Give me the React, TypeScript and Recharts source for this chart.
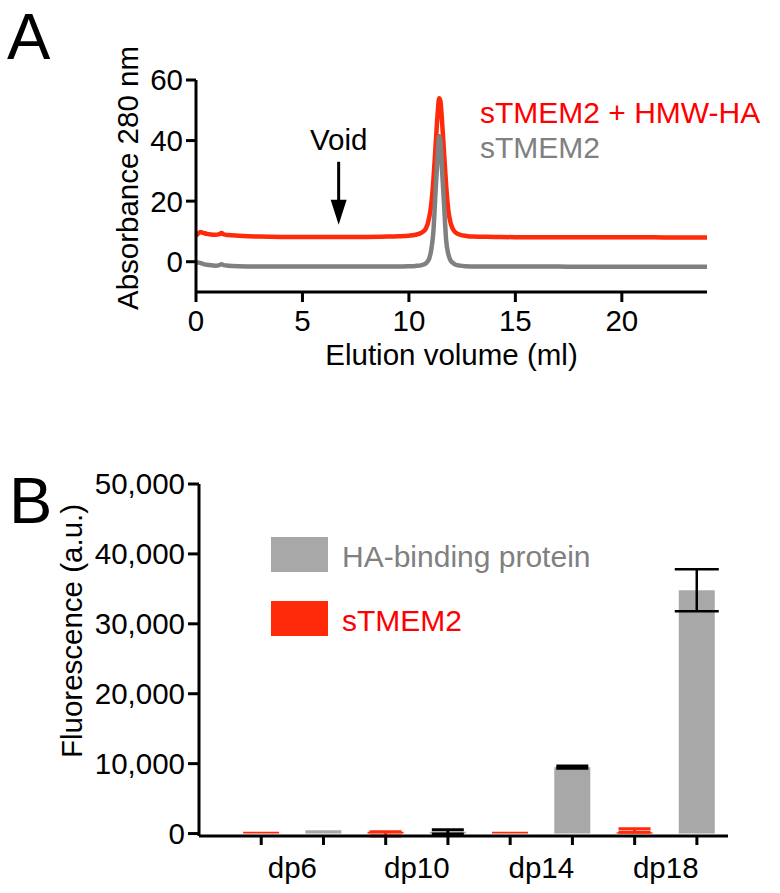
import React from 'react';
import {
  LineChart, Line, XAxis, YAxis, ReferenceDot, Legend,
  BarChart, Bar, Cell, ErrorBar,
} from 'recharts';

// ---------- Panel A data ----------
const elutionVolume = [0, 0.1, 0.2, 0.35, 0.5, 0.7, 0.9, 1.1, 1.2, 1.3, 1.5, 2, 3, 4, 5, 6, 7, 8, 9, 9.5, 10, 10.3, 10.6, 10.8, 10.95, 11.05, 11.15, 11.25, 11.35, 11.42, 11.48, 11.55, 11.65, 11.75, 11.85, 11.95, 12.05, 12.2, 12.4, 12.7, 13, 14, 15, 16, 17, 18, 19, 20, 21, 22, 23, 24];
const absWithHA = [8.6, 9.3, 9.8, 9.5, 9.2, 9.0, 8.9, 9.1, 9.5, 9.0, 8.8, 8.6, 8.3, 8.2, 8.2, 8.2, 8.2, 8.2, 8.3, 8.4, 8.6, 8.9, 9.6, 11.0, 14.5, 19, 27, 38, 49, 54, 53, 47, 36, 25, 17, 13, 11, 9.6, 8.9, 8.5, 8.3, 8.2, 8.1, 8.1, 8.1, 8.1, 8.1, 8.1, 8.1, 8.0, 8.0, 8.0];
const absAlone = [-0.4, -0.3, -0.4, -0.8, -1.0, -1.2, -1.3, -1.1, -0.8, -1.1, -1.3, -1.5, -1.6, -1.6, -1.6, -1.6, -1.6, -1.6, -1.6, -1.6, -1.5, -1.4, -1.1, -0.5, 1, 4, 10, 23, 35, 41.5, 40, 31, 19, 7, 2.5, 0.5, -0.3, -1.0, -1.3, -1.5, -1.6, -1.6, -1.6, -1.6, -1.6, -1.7, -1.7, -1.7, -1.7, -1.7, -1.7, -1.7];
const absTicks = [0, 20, 40, 60];
const volTicks = [0, 5, 10, 15, 20];
const voidVolume = 6.7;
const voidArrowTip = 12.2;

// ---------- Panel B data ----------
const categories = ['dp6', 'dp10', 'dp14', 'dp18'];
const hbpMean = [480, 250, 9500, 34800];
const hbpErr = [0, 300, 150, 3000];
const tmemMean = [250, 250, 250, 200];
const tmemErrLow = [0, 600, 0, 0];
const tmemErrHigh = [0, 0, 0, 500];
const fluorTicks = [0, 10000, 20000, 30000, 40000, 50000];

const RED = '#ff2a0a';
const RED_TEXT = '#ff0000';
const GRAY_LINE = '#808080';
const GRAY_BAR = '#a8a8a8';
const FONT = "'Liberation Sans', Arial, Helvetica, sans-serif";
const FS = 29.5;

const lineData = elutionVolume.map((v, i) => ({ vol: v, withHA: absWithHA[i], alone: absAlone[i] }));

const barData: any[] = [];
categories.forEach((c, i) => {
  const lo = tmemErrLow[i];
  const hi = tmemErrHigh[i];
  barData.push({ pos: 2 * i, value: tmemMean[i], kind: 'tmem', errRed: lo || hi ? [lo, hi] : undefined });
  barData.push({
    pos: 2 * i + 1, value: hbpMean[i], kind: 'hbp',
    errBlack: hbpErr[i] && hbpErr[i] < 1000 ? hbpErr[i] : undefined,
    errBlackBig: hbpErr[i] >= 1000 ? hbpErr[i] : undefined,
  });
});
const barXTicks: number[] = [];
categories.forEach((c, i) => { barXTicks.push(2 * i, 2 * i + 0.5, 2 * i + 1); });

const VoidArrow = (props: any) => {
  const { cx, cy } = props;
  if (cx == null || cy == null) return null;
  return (
    <g>
      <line x1={cx} x2={cx} y1={cy - 63} y2={cy - 22} stroke="#000" strokeWidth={3} />
      <polygon points={`${cx - 8},${cy - 25} ${cx + 8},${cy - 25} ${cx},${cy}`} fill="#000" />
      <text x={cx} y={cy - 75} textAnchor="middle" fontSize={FS} fontFamily={FONT} fill="#000">Void</text>
    </g>
  );
};

const BarXTick = (props: any) => {
  const { x, y, payload } = props;
  const v = payload.value;
  if (Number.isInteger(v)) {
    return <line x1={x} x2={x} y1={y} y2={y + 9} stroke="#000" strokeWidth={3} />;
  }
  const idx = Math.round((v - 0.5) / 2);
  return (
    <text x={x} y={y + 42} textAnchor="middle" fontSize={FS} fontFamily={FONT} fill="#000">{categories[idx]}</text>
  );
};

const LegendA = () => (
  <div style={{ fontFamily: FONT, fontSize: 30, lineHeight: '35px', whiteSpace: 'nowrap' }}>
    <div style={{ color: RED_TEXT }}>sTMEM2 + HMW-HA</div>
    <div style={{ color: GRAY_LINE }}>sTMEM2</div>
  </div>
);

const LegendB = () => (
  <div style={{ fontFamily: FONT, fontSize: 30, whiteSpace: 'nowrap' }}>
    <div style={{ display: 'flex', height: 35, alignItems: 'flex-start' }}>
      <div style={{ width: 57, height: 35, background: GRAY_BAR }} />
      <span style={{ marginLeft: 14, color: GRAY_LINE, lineHeight: '35px', position: 'relative', top: 2 }}>HA-binding protein</span>
    </div>
    <div style={{ display: 'flex', height: 35, marginTop: 29, alignItems: 'flex-start' }}>
      <div style={{ width: 57, height: 35, background: RED }} />
      <span style={{ marginLeft: 14, color: RED_TEXT, lineHeight: '35px', position: 'relative', top: 2 }}>sTMEM2</span>
    </div>
  </div>
);

const tickStyle = { fontSize: FS, fontFamily: FONT, fill: '#000' };

export default function App() {
  return (
    <div style={{ position: 'absolute', left: 0, top: 0, width: 780, height: 893, background: '#fff' }}>
      <svg width={780} height={893} style={{ position: 'absolute', left: 0, top: 0, pointerEvents: 'none' }}>
        <text x={7} y={59} fontSize={65} fontFamily={FONT} fill="#000">A</text>
        <text x={9} y={523} fontSize={65} fontFamily={FONT} fill="#000">B</text>
      </svg>

      <div style={{ position: 'absolute', left: 0, top: 0 }}>
        <LineChart width={780} height={380} data={lineData} margin={{ top: 80, right: 73, bottom: 8, left: 66 }}>
          <XAxis
            dataKey="vol" type="number" domain={[0, 24]} ticks={volTicks} height={80}
            stroke="#000" strokeWidth={3} tickSize={10} tickMargin={8} tick={tickStyle}
            label={{ value: 'Elution volume (ml)', position: 'insideBottom', offset: 7, fontSize: FS, fontFamily: FONT, fill: '#000' }}
          />
          <YAxis
            type="number" domain={[-10, 60]} ticks={absTicks} width={130}
            stroke="#000" strokeWidth={3} tickSize={10} tickMargin={3} tick={tickStyle}
            label={{ value: 'Absorbance 280 nm', angle: -90, position: 'insideLeft', offset: 62, dy: -8, fontSize: FS, fontFamily: FONT, fill: '#000', style: { textAnchor: 'middle' } }}
          />
          <Legend
            layout="horizontal" verticalAlign="middle" align="center"
            content={<LegendA />}
            wrapperStyle={{ left: 480, top: 95, width: 'auto', height: 'auto' }}
          />
          <Line dataKey="withHA" type="monotone" stroke={RED} strokeWidth={4.5} dot={false} isAnimationActive={false} legendType="none" />
          <Line dataKey="alone" type="monotone" stroke={GRAY_LINE} strokeWidth={4.5} dot={false} isAnimationActive={false} legendType="none" />
          <ReferenceDot x={voidVolume} y={voidArrowTip} r={0} shape={<VoidArrow />} />
        </LineChart>
      </div>

      <div style={{ position: 'absolute', left: 0, top: 400 }}>
        <BarChart width={780} height={493} data={barData} margin={{ top: 84, right: 52, bottom: 7, left: 69 }}>
          <XAxis
            dataKey="pos" type="number" domain={[-1, 7.5]} ticks={barXTicks} height={50}
            stroke="#000" strokeWidth={3} tickLine={false} tickSize={0} tickMargin={0}
            tick={<BarXTick />} interval={0}
          />
          <YAxis
            type="number" domain={[0, 50000]} ticks={fluorTicks} width={130}
            stroke="#000" strokeWidth={3} tickSize={11} tickMargin={3} tick={tickStyle}
            tickFormatter={(v: number) => v.toLocaleString('en-US')}
            label={{ value: 'Fluorescence (a.u.)', angle: -90, position: 'insideLeft', offset: 3, dy: -29, fontSize: FS, fontFamily: FONT, fill: '#000', style: { textAnchor: 'middle' } }}
          />
          <Legend
            layout="horizontal" verticalAlign="middle" align="center"
            content={<LegendB />}
            wrapperStyle={{ left: 271, top: 137, width: 'auto', height: 'auto' }}
          />
          <Bar dataKey="value" barSize={36} isAnimationActive={false}>
            {barData.map((d, i) => (
              <Cell key={i} fill={d.kind === 'tmem' ? RED : GRAY_BAR} />
            ))}
            <ErrorBar dataKey="errRed" stroke={RED} strokeWidth={3} width={16} direction="y" />
            <ErrorBar dataKey="errBlack" stroke="#000" strokeWidth={3} width={16} direction="y" />
            <ErrorBar dataKey="errBlackBig" stroke="#000" strokeWidth={2.5} width={22} direction="y" />
          </Bar>
        </BarChart>
      </div>
    </div>
  );
}
